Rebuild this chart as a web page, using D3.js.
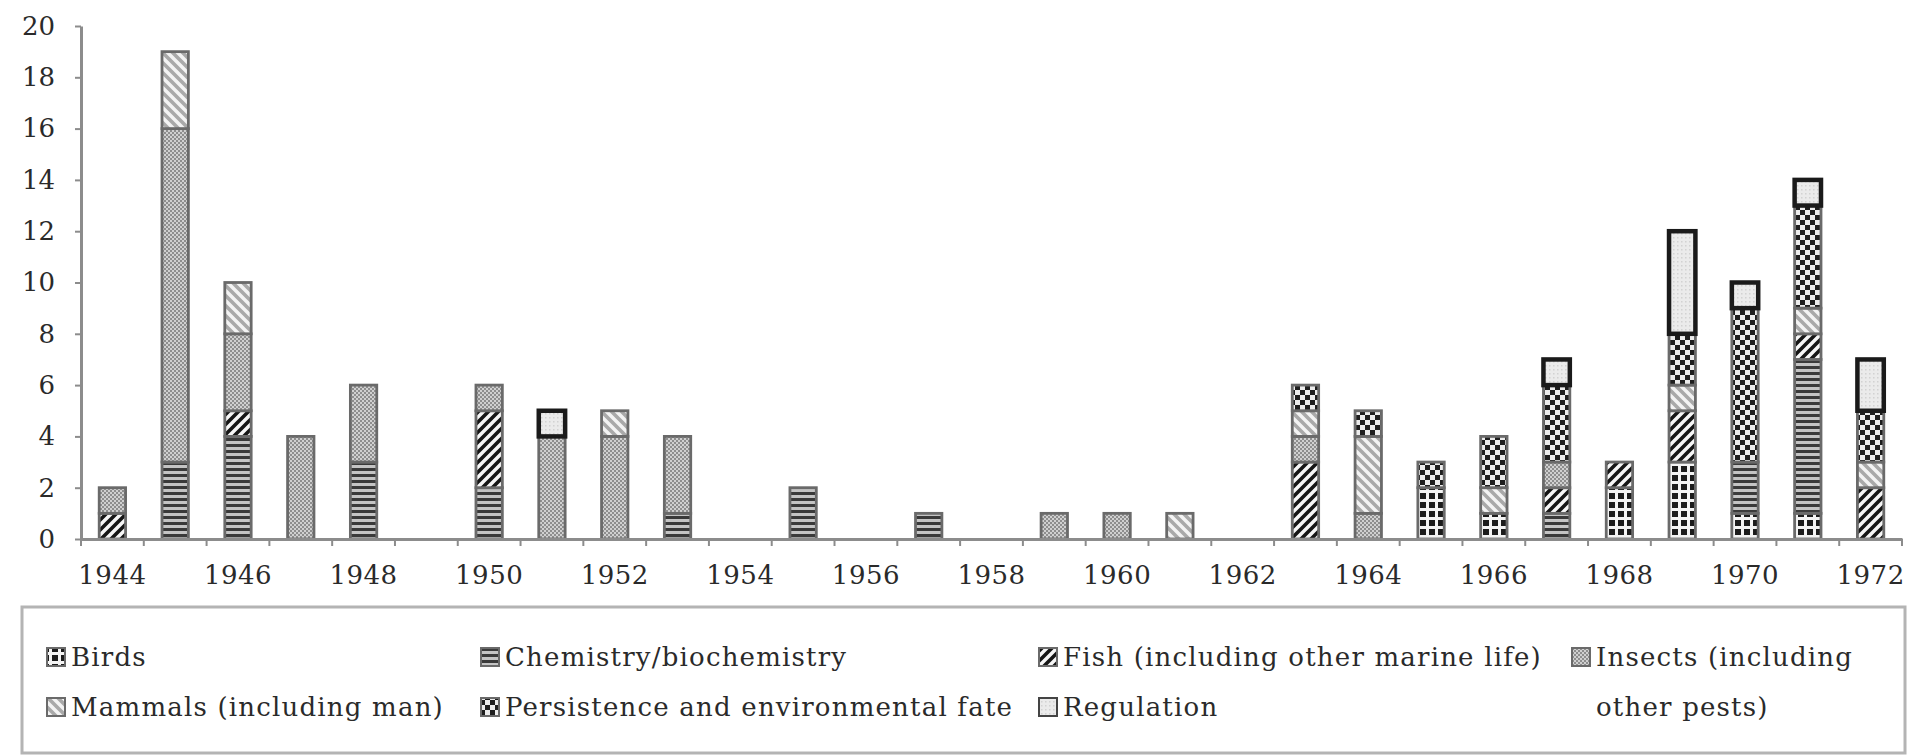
<!DOCTYPE html>
<html>
<head>
<meta charset="utf-8">
<script src="https://cdn.jsdelivr.net/npm/d3@7"></script>
<style>
  body { margin: 0; background: #fff; }
  .tick-label, .legend-text { font-family: "DejaVu Serif", serif; fill: #2a2a2a; }
</style>
</head>
<body>
<div id="chart"></div>
<script>
// Years on the x axis
const years = d3.range(1944, 1973);

// Publications per year, one array per topic (index 0 = 1944)
const birds       = [0,0,0,0,0,0,0,0,0,0,0,0,0,0,0,0,0,0,0,0,0,2,1,0,2,3,1,1,0];
const chemistry   = [0,3,4,0,3,0,2,0,0,1,0,2,0,1,0,0,0,0,0,0,0,0,0,1,0,0,2,6,0];
const fish        = [1,0,1,0,0,0,3,0,0,0,0,0,0,0,0,0,0,0,0,3,0,0,0,1,1,2,0,1,2];
const insects     = [1,13,3,4,3,0,1,4,4,3,0,0,0,0,0,1,1,0,0,1,1,0,0,1,0,0,0,0,0];
const mammals     = [0,3,2,0,0,0,0,0,1,0,0,0,0,0,0,0,0,1,0,1,3,0,1,0,0,1,0,1,1];
const persistence = [0,0,0,0,0,0,0,0,0,0,0,0,0,0,0,0,0,0,0,1,1,1,2,3,0,2,6,4,2];
const regulation  = [0,0,0,0,0,0,0,1,0,0,0,0,0,0,0,0,0,0,0,0,0,0,0,1,0,4,1,1,2];

const categories = ["Birds", "Chemistry/biochemistry", "Fish (including other marine life)",
  "Insects (including other pests)", "Mammals (including man)",
  "Persistence and environmental fate", "Regulation"];
const seriesValues = [birds, chemistry, fish, insects, mammals, persistence, regulation];

const yTicks = d3.range(0, 21, 2);
const xLabelYears = d3.range(1944, 1973, 2);

// Build the table for d3.stack
const table = years.map((yr, i) => {
  const row = {year: yr};
  categories.forEach((c, k) => { row[c] = seriesValues[k][i]; });
  return row;
});

const W = 1929, H = 756;
const svg = d3.select("#chart").append("svg")
    .attr("width", W)
    .attr("height", H);

// ---- Patterns (scanned greyscale look) ----
const defs = svg.append("defs");
function makePattern(id, size) {
  return defs.append("pattern")
      .attr("id", id)
      .attr("patternUnits", "userSpaceOnUse")
      .attr("width", size)
      .attr("height", size);
}

// Birds: black squares separated by white crosses
let p = makePattern("p0", 9);
p.append("rect").attr("width", 9).attr("height", 9).attr("fill", "#1c1c1c");
p.append("rect").attr("x", 0).attr("y", 4).attr("width", 9).attr("height", 3).attr("fill", "#f4f4f4");
p.append("rect").attr("x", 4).attr("y", 0).attr("width", 3).attr("height", 9).attr("fill", "#f4f4f4");

// Chemistry: horizontal stripes
p = makePattern("p1", 6);
p.append("rect").attr("width", 6).attr("height", 6).attr("fill", "#c4c4c4");
p.append("rect").attr("width", 6).attr("height", 3).attr("fill", "#3a3a3a");

// Fish: bold "/" stripes
p = makePattern("p2", 10);
p.append("rect").attr("width", 10).attr("height", 10).attr("fill", "#f6f6f6");
p.append("path").attr("d", "M-2,2L2,-2M0,10L10,0M8,12L12,8")
    .attr("stroke", "#161616").attr("stroke-width", 3.6);

// Insects: fine grey checker
p = makePattern("p3", 4);
p.append("rect").attr("width", 4).attr("height", 4).attr("fill", "#d0d0d0");
p.append("rect").attr("width", 2).attr("height", 2).attr("fill", "#8e8e8e");
p.append("rect").attr("x", 2).attr("y", 2).attr("width", 2).attr("height", 2).attr("fill", "#8e8e8e");

// Mammals: light "\" stripes
p = makePattern("p4", 10);
p.append("rect").attr("width", 10).attr("height", 10).attr("fill", "#f3f3f3");
p.append("path").attr("d", "M0,0L10,10M-2,8L2,12M8,-2L12,2")
    .attr("stroke", "#a9a9a9").attr("stroke-width", 3.6);

// Persistence: black and white checker
p = makePattern("p5", 10);
p.append("rect").attr("width", 10).attr("height", 10).attr("fill", "#ececec");
p.append("rect").attr("width", 5).attr("height", 5).attr("fill", "#1e1e1e");
p.append("rect").attr("x", 5).attr("y", 5).attr("width", 5).attr("height", 5).attr("fill", "#1e1e1e");

// Regulation: pale grey stipple
p = makePattern("p6", 4);
p.append("rect").attr("width", 4).attr("height", 4).attr("fill", "#ebebeb");
p.append("rect").attr("x", 1).attr("y", 1).attr("width", 1.5).attr("height", 1.5).attr("fill", "#d2d2d2");

// ---- Scales ----
const plot = {left: 81, right: 1902, top: 26, bottom: 539};

const x = d3.scaleBand()
    .domain(years)
    .range([plot.left, plot.right])
    .paddingInner(0.58)
    .paddingOuter(0.29);

const y = d3.scaleLinear()
    .domain([0, 20])
    .range([plot.bottom, plot.top]);

const axisColor = "#8c8c8c";

// ---- Bars ----
const stacked = d3.stack().keys(categories)(table);

stacked.forEach((layer, k) => {
  const isReg = k === 6;
  svg.append("g")
    .selectAll("rect")
    .data(layer.filter(d => d[1] - d[0] > 0))
    .join("rect")
      .attr("x", d => x(d.data.year))
      .attr("y", d => y(d[1]))
      .attr("width", x.bandwidth())
      .attr("height", d => y(d[0]) - y(d[1]))
      .attr("fill", `url(#p${k})`)
      .attr("stroke", isReg ? "#1a1a1a" : "#6a6a6a")
      .attr("stroke-width", isReg ? 4.5 : 2.8);
});

// ---- Y axis ----
const yAxis = svg.append("g")
    .attr("transform", `translate(${plot.left},0)`)
    .call(d3.axisLeft(y).tickValues(yTicks).tickSize(6).tickSizeOuter(0).tickPadding(20));
yAxis.select(".domain").attr("stroke", axisColor).attr("stroke-width", 3);
yAxis.selectAll(".tick line").attr("stroke", axisColor).attr("stroke-width", 2);
yAxis.selectAll(".tick text")
    .attr("class", "tick-label")
    .style("font-size", "26px");
yAxis.attr("font-family", null).attr("font-size", null);

// ---- X axis ----
const xAxis = svg.append("g")
    .attr("transform", `translate(0,${plot.bottom})`)
    .call(d3.axisBottom(x).tickValues(xLabelYears).tickSize(0).tickSizeOuter(0).tickPadding(27));
xAxis.select(".domain").attr("stroke", axisColor).attr("stroke-width", 3);
xAxis.selectAll(".tick text")
    .attr("class", "tick-label")
    .style("font-size", "26px")
    .style("letter-spacing", "0.5px");
xAxis.attr("font-family", null).attr("font-size", null);

// ticks between the bars
const boundaries = d3.range(years.length + 1).map(i => plot.left + i * x.step());
xAxis.selectAll(".between")
  .data(boundaries)
  .join("line")
    .attr("class", "between")
    .attr("x1", d => d).attr("x2", d => d)
    .attr("y1", 0).attr("y2", 7)
    .attr("stroke", axisColor)
    .attr("stroke-width", 2);

// ---- Legend ----
const legend = svg.append("g");
legend.append("rect")
    .attr("x", 22).attr("y", 607)
    .attr("width", 1883).attr("height", 146)
    .attr("fill", "#fff")
    .attr("stroke", "#b4b4b4")
    .attr("stroke-width", 3);

const colX = [47, 481, 1039, 1572];
const rowY = [657, 707];
const legendLines = [
  ["Birds"], ["Chemistry/biochemistry"], ["Fish (including other marine life)"],
  ["Insects (including", "other pests)"], ["Mammals (including man)"],
  ["Persistence and environmental fate"], ["Regulation"]
];

categories.forEach((c, k) => {
  const col = k < 4 ? k : k - 4;
  const row = k < 4 ? 0 : 1;
  const gx = colX[col], gy = rowY[row];
  legend.append("rect")
      .attr("x", gx).attr("y", gy - 9)
      .attr("width", 18).attr("height", 18)
      .attr("fill", `url(#p${k})`)
      .attr("stroke", k === 6 ? "#444" : "#6a6a6a")
      .attr("stroke-width", 2);
  legendLines[k].forEach((line, j) => {
    legend.append("text")
        .attr("class", "legend-text")
        .attr("x", gx + 24)
        .attr("y", gy + j * (rowY[1] - rowY[0]))
        .attr("dy", "0.35em")
        .style("font-size", "26px")
        .style("letter-spacing", "1.2px")
        .text(line);
  });
});
</script>
</body>
</html>
